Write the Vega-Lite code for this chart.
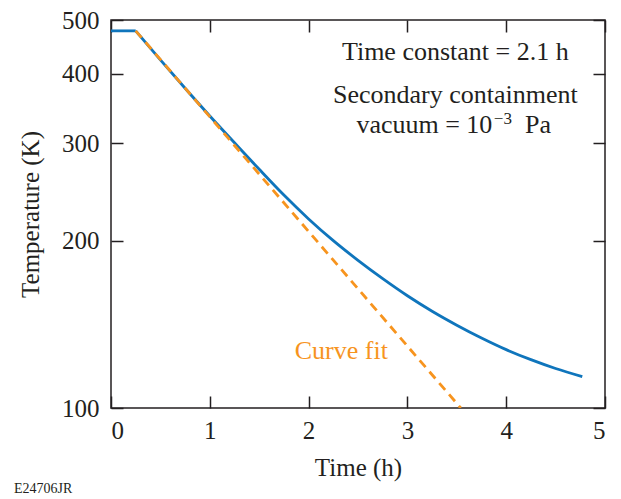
{
  "$schema": "https://vega.github.io/schema/vega-lite/v6.json",
  "width": 494,
  "height": 388,
  "autosize": {"type": "none"},
  "padding": {"left": 111, "top": 20, "right": 16, "bottom": 91},
  "background": "white",
  "config": {
    "view": {"stroke": "#231f20", "strokeWidth": 1.5},
    "font": "Liberation Serif",
    "axis": {
      "labelFont": "Liberation Serif",
      "labelFontSize": 25,
      "labelColor": "#231f20",
      "titleFont": "Liberation Serif",
      "titleFontSize": 25,
      "titleFontWeight": "normal",
      "titleColor": "#231f20",
      "tickColor": "#231f20",
      "tickWidth": 1.5,
      "grid": false,
      "domain": false
    }
  },
  "title": {
    "text": "E24706JR",
    "orient": "bottom",
    "anchor": "start",
    "frame": "group",
    "dx": -97,
    "offset": 2,
    "fontSize": 14,
    "font": "Liberation Serif",
    "fontWeight": "normal",
    "color": "#231f20"
  },
  "datasets": {
    "plateau": [
      {"t": 0, "T": 478}, {"t": 0.25, "T": 478}
    ],
    "cooling": [
      {"t": 0.25, "T": 478}, {"t": 0.5, "T": 423.9},
      {"t": 0.75, "T": 376.7}, {"t": 1.0, "T": 335.8}, {"t": 1.25, "T": 300.5},
      {"t": 1.5, "T": 269.2}, {"t": 1.75, "T": 241.9}, {"t": 2.0, "T": 219.1},
      {"t": 2.25, "T": 200.2}, {"t": 2.5, "T": 184.5}, {"t": 2.75, "T": 171.0},
      {"t": 3.0, "T": 159.3}, {"t": 3.25, "T": 149.4}, {"t": 3.5, "T": 141.0},
      {"t": 3.75, "T": 133.7}, {"t": 4.0, "T": 127.4}, {"t": 4.25, "T": 122.2},
      {"t": 4.5, "T": 117.8}, {"t": 4.77, "T": 113.9}
    ],
    "fit": [
      {"t": 0.25, "T": 478}, {"t": 3.54, "T": 100}
    ],
    "centered": [
      {"t": 3.485, "T": 424, "text": "Time constant = 2.1 h"},
      {"t": 3.485, "T": 354, "text": "Secondary containment"}
    ],
    "vacuum": [{"t": 3.86, "T": 313, "text": "vacuum = 10"}],
    "exponent": [{"t": 3.875, "T": 325, "text": "−3"}],
    "unit": [{"t": 4.19, "T": 313, "text": "Pa"}],
    "fitlabel": [{"t": 1.86, "T": 122.5, "text": "Curve fit"}]
  },
  "resolve": {"axis": {"x": "independent", "y": "independent"}},
  "layer": [
    {
      "data": {"name": "plateau"},
      "mark": {"type": "line", "color": "#0f75bc", "strokeWidth": 2.8, "clip": true},
      "encoding": {
        "x": {"field": "t", "type": "quantitative", "axis": null},
        "y": {"field": "T", "type": "quantitative", "axis": null}
      }
    },
    {
      "data": {"name": "cooling"},
      "mark": {"type": "line", "color": "#0f75bc", "strokeWidth": 2.8, "interpolate": "monotone", "clip": true},
      "encoding": {
        "x": {
          "field": "t", "type": "quantitative",
          "scale": {"domain": [0, 5], "nice": false, "zero": false},
          "axis": {"orient": "bottom", "values": [0, 1, 2, 3, 4, 5], "tickSize": -12, "labelPadding": 22, "title": "Time (h)", "titlePadding": 12}
        },
        "y": {
          "field": "T", "type": "quantitative",
          "scale": {"type": "log", "domain": [100, 500], "nice": false},
          "axis": {"orient": "left", "values": [100, 200, 300, 400, 500], "tickSize": -12, "labelPadding": 24, "title": "Temperature (K)", "titlePadding": 18}
        }
      }
    },
    {
      "data": {"name": "fit"},
      "mark": {"type": "line", "color": "#f7941e", "strokeWidth": 2.8, "strokeDash": [9, 6], "clip": true},
      "encoding": {
        "x": {
          "field": "t", "type": "quantitative",
          "axis": {"orient": "top", "values": [0, 1, 2, 3, 4, 5], "tickSize": -12, "labels": false, "title": null}
        },
        "y": {
          "field": "T", "type": "quantitative",
          "axis": {"orient": "right", "values": [100, 200, 300, 400, 500], "tickSize": -12, "labels": false, "title": null}
        }
      }
    },
    {
      "data": {"name": "centered"},
      "mark": {"type": "text", "fontSize": 26, "font": "Liberation Serif", "baseline": "alphabetic", "align": "center", "color": "#231f20"},
      "encoding": {
        "x": {"field": "t", "type": "quantitative", "axis": null},
        "y": {"field": "T", "type": "quantitative", "axis": null},
        "text": {"field": "text"}
      }
    },
    {
      "data": {"name": "vacuum"},
      "mark": {"type": "text", "fontSize": 26, "font": "Liberation Serif", "baseline": "alphabetic", "align": "right", "color": "#231f20"},
      "encoding": {
        "x": {"field": "t", "type": "quantitative", "axis": null},
        "y": {"field": "T", "type": "quantitative", "axis": null},
        "text": {"field": "text"}
      }
    },
    {
      "data": {"name": "exponent"},
      "mark": {"type": "text", "fontSize": 17, "font": "Liberation Serif", "baseline": "alphabetic", "align": "left", "color": "#231f20"},
      "encoding": {
        "x": {"field": "t", "type": "quantitative", "axis": null},
        "y": {"field": "T", "type": "quantitative", "axis": null},
        "text": {"field": "text"}
      }
    },
    {
      "data": {"name": "unit"},
      "mark": {"type": "text", "fontSize": 26, "font": "Liberation Serif", "baseline": "alphabetic", "align": "left", "color": "#231f20"},
      "encoding": {
        "x": {"field": "t", "type": "quantitative", "axis": null},
        "y": {"field": "T", "type": "quantitative", "axis": null},
        "text": {"field": "text"}
      }
    },
    {
      "data": {"name": "fitlabel"},
      "mark": {"type": "text", "fontSize": 26, "font": "Liberation Serif", "baseline": "alphabetic", "align": "left", "color": "#f7941e"},
      "encoding": {
        "x": {"field": "t", "type": "quantitative", "axis": null},
        "y": {"field": "T", "type": "quantitative", "axis": null},
        "text": {"field": "text"}
      }
    }
  ]
}
